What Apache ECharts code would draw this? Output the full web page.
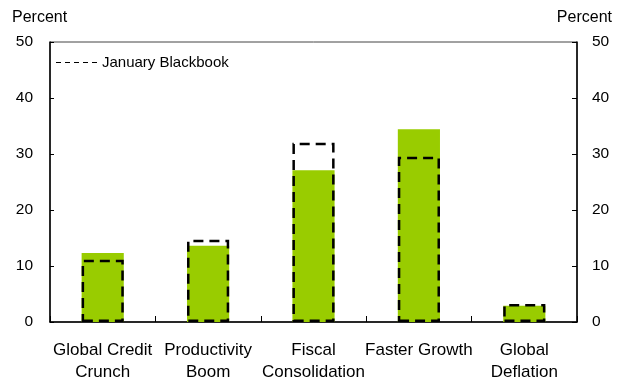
<!DOCTYPE html>
<html>
<head>
<meta charset="utf-8">
<script src="https://cdn.jsdelivr.net/npm/echarts@6/dist/echarts.min.js"></script>
<style>
  html, body { margin: 0; padding: 0; background: #fff; }
  #chart { width: 624px; height: 381px; }
</style>
</head>
<body>
<div id="chart"></div>
<script>
// Scenario probabilities, percent
const categories = ['Global Credit\nCrunch', 'Productivity\nBoom', 'Fiscal\nConsolidation', 'Faster Growth', 'Global\nDeflation'];
const currentValues = [12.3, 13.6, 27.1, 34.4, 2.9];
const januaryValues = [11.1, 14.7, 32.0, 29.5, 3.2];
const yTicks = [0, 10, 20, 30, 40, 50];

const FONT = '"Liberation Sans", Arial, sans-serif';
const yMin = yTicks[0];
const yMax = yTicks[yTicks.length - 1];
const yStep = yTicks[1] - yTicks[0];

// Five short dashes used as the legend key for the dashed outline series
const dashIcon = 'path://M0,0h5v1h-5z M9,0h5v1h-5z M18,0h5v1h-5z M27,0h5v1h-5z M36,0h5v1h-5z';

const chart = echarts.init(document.getElementById('chart'), null, { renderer: 'canvas' });

const yAxisBase = {
  type: 'value',
  min: yMin,
  max: yMax,
  interval: yStep,
  splitLine: { show: false },
  axisLine: { show: true, lineStyle: { color: '#000', width: 1.5 } },
  axisTick: { show: true, inside: true, length: 4, lineStyle: { color: '#000', width: 1 } },
  nameLocation: 'end',
  nameGap: 16,
};

chart.setOption({
  animation: false,
  backgroundColor: '#fff',
  grid: {
    left: 50, right: 47, top: 42, bottom: 59,
    outerBoundsMode: 'none',
    containLabel: false,
    show: true, borderColor: '#444', borderWidth: 1, backgroundColor: 'transparent'
  },
  legend: {
    data: [{ name: 'January Blackbook', icon: dashIcon }],
    left: 51, top: 50,
    itemWidth: 41, itemHeight: 1.5, itemGap: 5,
    textStyle: { fontFamily: FONT, fontSize: 15, color: '#000', padding: [0, 0, 0, 0] },
    itemStyle: { color: '#000', borderWidth: 0 },
    selectedMode: false
  },
  xAxis: {
    type: 'category',
    data: categories,
    axisLine: { show: true, lineStyle: { color: '#000', width: 1.5 } },
    axisTick: { show: true, inside: true, length: 6, alignWithLabel: false, lineStyle: { color: '#000', width: 1 } },
    axisLabel: {
      interval: 0, margin: 17, color: '#000',
      fontFamily: FONT, fontSize: 17, lineHeight: 22
    }
  },
  yAxis: [
    Object.assign({}, yAxisBase, {
      position: 'left',
      name: 'Percent',
      nameTextStyle: { fontFamily: FONT, fontSize: 16, color: '#000', align: 'left', padding: [0, 0, 0, -38] },
      axisLabel: { margin: 17, color: '#000', fontFamily: FONT, fontSize: 15.5 }
    }),
    Object.assign({}, yAxisBase, {
      position: 'right',
      name: 'Percent',
      nameTextStyle: { fontFamily: FONT, fontSize: 16, color: '#000', align: 'right', padding: [0, -35, 0, 0] },
      axisTick: { show: true, inside: true, length: 5, lineStyle: { color: '#000', width: 1 } },
      axisLabel: { margin: 15, color: '#000', fontFamily: FONT, fontSize: 15.5 }
    })
  ],
  series: [
    {
      name: 'Current',
      type: 'bar',
      yAxisIndex: 0,
      data: currentValues,
      barWidth: '40%',
      itemStyle: { color: '#99CC00' },
      z: 2
    },
    {
      name: 'January Blackbook',
      type: 'bar',
      yAxisIndex: 0,
      data: januaryValues,
      barWidth: '40%',
      barGap: '-100%',
      itemStyle: {
        color: 'rgba(0,0,0,0)',
        borderColor: '#000',
        borderWidth: 2.5,
        borderType: [10, 6]
      },
      z: 3
    }
  ]
});
</script>
</body>
</html>
